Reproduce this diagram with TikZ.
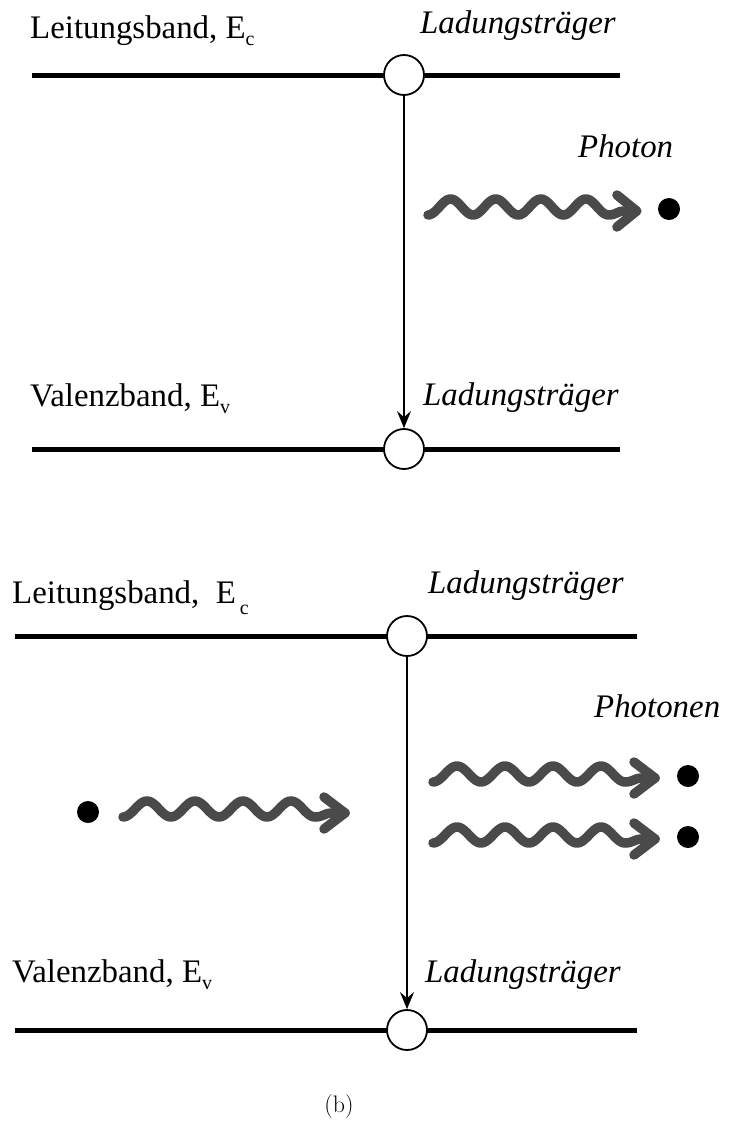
\documentclass[tikz,border=0pt]{standalone}
\usepackage{fontspec}
\newfontfamily\tnr{Liberation Serif}
\usetikzlibrary{arrows.meta}
\definecolor{wavegray}{HTML}{4A4A4A}
\newcommand{\subsc}[2][7]{\raisebox{-#1bp}{\fontsize{20}{20}\selectfont #2}}
\tikzset{
  lbl/.style={inner sep=0pt, anchor=base west, font=\tnr\fontsize{33}{36}\selectfont},
  ilbl/.style={inner sep=0pt, anchor=base west, font=\tnr\itshape\fontsize{33}{36}\selectfont},
  band/.style={line width=5bp},
  carrier/.style={circle, draw, fill=white, line width=1.8bp, minimum size=40bp, inner sep=0pt},
  trans/.style={line width=1.4bp, -{Stealth[length=17bp,width=14bp,inset=6bp]}},
  dotp/.style={circle, fill=black, minimum size=22bp, inner sep=0pt},
  wavy/.style={line width=9.5bp, draw=wavegray, line cap=round, line join=round},
  photon/.pic={
    \draw[wavy] plot[domain=0:192, samples=120] (\x,{8*cos(7.5*\x)-4})
      .. controls (200,4) and (202,0) .. (208,0) -- (222,0);
    \draw[wavy] (201,-16) -- (222,0) -- (201,16);
  }
}
\begin{document}
\begin{tikzpicture}[x=1bp, y=-1bp]
\useasboundingbox (0,0) rectangle (730,1126);
% ---------- top panel ----------
\coordinate (t1L) at (32,75);  \coordinate (t1R) at (620,75);
\coordinate (t2L) at (32,449); \coordinate (t2R) at (620,449);
\draw[band] (t1L) -- (t1R);
\draw[band] (t2L) -- (t2R);
\node[carrier] (tc) at (404,75) {};
\node[carrier] (tv) at (404,449) {};
\draw[trans] (tc.south) -- (tv.north);
\node[lbl] (tlc) at (30,38) {Leitungsband, E\subsc{c}};
\node[ilbl] (tlq1) at (420,33) {Ladungsträger};
\node[ilbl] (tph) at (578,157) {Photon};
\node[lbl] (tlv) at (30,406) {Valenzband, E\subsc{v}};
\node[ilbl] (tlq2) at (423,405) {Ladungsträger};
\pic[xscale=0.94] at (428,211) {photon};
\node[dotp] (td) at (669,209) {};
% ---------- bottom panel ----------
\coordinate (b1L) at (15,636);  \coordinate (b1R) at (637,636);
\coordinate (b2L) at (15,1030); \coordinate (b2R) at (637,1030);
\draw[band] (b1L) -- (b1R);
\draw[band] (b2L) -- (b2R);
\node[carrier] (bc) at (407,636) {};
\node[carrier] (bv) at (407,1030) {};
\draw[trans] (bc.south) -- (bv.north);
\node[lbl] (blc) at (12,603) {Leitungsband,\ \ E\hspace{4bp}\subsc[11]{c}};
\node[ilbl] (blq1) at (428,593) {Ladungsträger};
\node[ilbl] (bph) at (594,717) {Photonen};
\node[lbl] (blv) at (12,982) {Valenzband, E\subsc{v}};
\node[ilbl] (blq2) at (425,982) {Ladungsträger};
\node[dotp] (bd0) at (88,812) {};
\pic at (123,813) {photon};
\pic at (433,778) {photon};
\pic at (433,839) {photon};
\node[dotp] (bd1) at (688,776) {};
\node[dotp] (bd2) at (688,837) {};
\node[inner sep=0pt, anchor=base, font=\fontsize{24}{28}\selectfont] (cap) at (339,1112) {(b)};
\end{tikzpicture}
\end{document}
